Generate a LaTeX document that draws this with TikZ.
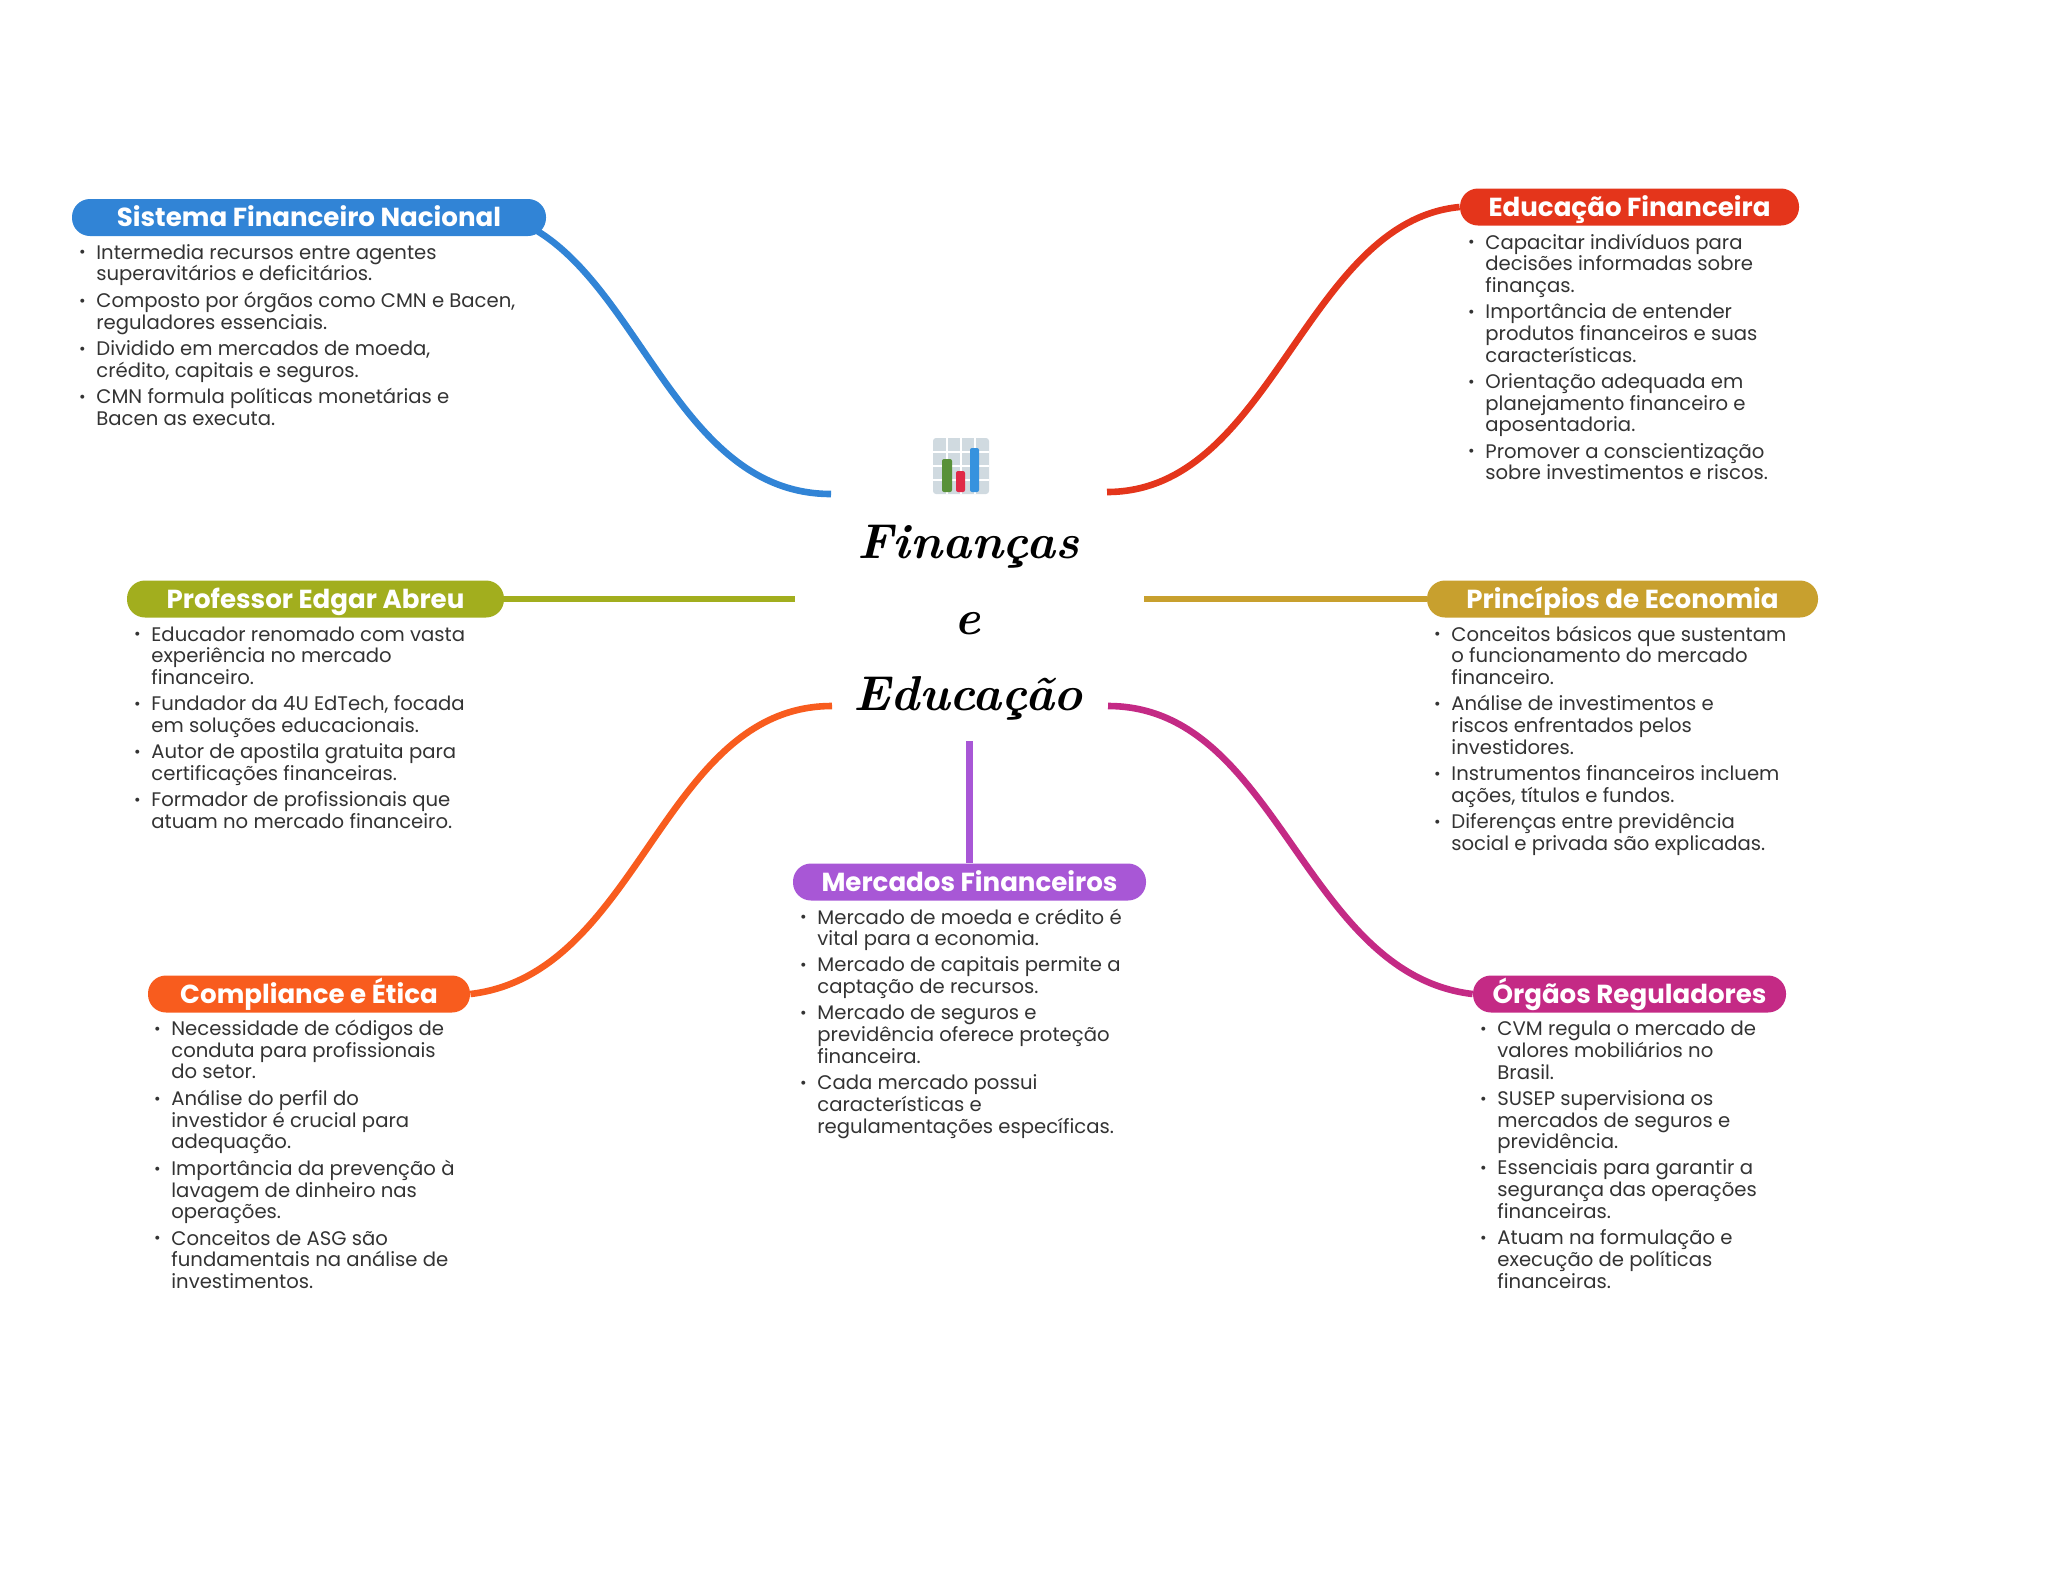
\documentclass[tikz,border=0pt]{standalone}
\usepackage{fontspec}
\newfontfamily\poppins{Poppins}
\usetikzlibrary{positioning}
\definecolor{azul}{HTML}{3184D6}
\definecolor{vermelho}{HTML}{E4351B}
\definecolor{ouro}{HTML}{C8A02E}
\definecolor{oliva}{HTML}{A2AE1E}
\definecolor{laranja}{HTML}{F85C1E}
\definecolor{magenta2}{HTML}{C42A85}
\definecolor{roxo}{HTML}{A857D6}
\definecolor{texto}{HTML}{333333}
\newcommand{\marca}{\makebox[4pt][c]{\raisebox{0.6pt}{\fontsize{8}{8}\selectfont\textbullet}}}
\newcommand{\lista}[1]{\begin{tabular}[t]{@{}p{9pt}@{}l@{}}#1\end{tabular}}
\tikzset{
  topico/.style={rounded corners=9pt, inner sep=0pt, text=white, minimum height=18.5pt,
    text height=11.65pt, text depth=2.35pt, font=\poppins\bfseries\fontsize{13.05}{15}\selectfont},
  notas/.style={anchor=base west, inner sep=0pt, text=texto,
    font=\poppins\fontsize{9.82}{10.83}\selectfont},
  ramo/.style={line width=3.3pt}
}
\begin{document}
\begin{tikzpicture}[x=0.5pt,y=-0.5pt]
        \useasboundingbox (0,0) rectangle (2048,1569);

        % icone central
        \fill[rounded corners=1.5pt, color={rgb,255:red,208;green,218;blue,224}] (933,438) rectangle (989,494);
        \draw[white, line width=0.6pt] (933,452) -- (989,452) (933,466) -- (989,466) (933,480) -- (989,480)
            (947,438) -- (947,494) (961,438) -- (961,494) (975,438) -- (975,494);
        \fill[rounded corners=1pt, color={rgb,255:red,88;green,145;blue,56}] (942,492) rectangle (952,459);
        \fill[rounded corners=1pt, color={rgb,255:red,224;green,42;blue,72}] (956,492) rectangle (965,471);
        \fill[rounded corners=1pt, color={rgb,255:red,54;green,146;blue,222}] (970,492) rectangle (979,448);

        % titulo central
        \node[anchor=base, align=center, font=\bfseries\itshape\fontsize{24.5}{38}\selectfont] (titulo) at (968,710)
            {Finanças\\e\\Educação};

        % pontas livres dos ramos
        \coordinate (pSis) at (831,494);
        \coordinate (pEdu) at (1107,492);
        \coordinate (pPro) at (795,599);
        \coordinate (pPri) at (1144,599);
        \coordinate (pCom) at (832,706);
        \coordinate (pOrg) at (1108,706);
        \coordinate (pMer) at (969.5,741);

        % topicos
        \node[topico, fill=azul, minimum width=237pt] (sis) at (309,217.5) {Sistema Financeiro Nacional};
        \node[topico, fill=vermelho, minimum width=169.5pt] (edu) at (1629.5,207) {Educação Financeira};
        \node[topico, fill=oliva, minimum width=188.5pt] (pro) at (315.5,599) {Professor Edgar Abreu};
        \node[topico, fill=ouro, minimum width=195.5pt] (pri) at (1622.5,599) {Princípios de Economia};
        \node[topico, fill=laranja, minimum width=161pt] (com) at (309,994) {Compliance e Ética};
        \node[topico, fill=magenta2, minimum width=156.5pt] (org) at (1629.5,994) {Órgãos Reguladores};
        \node[topico, fill=roxo, minimum width=176.5pt] (mer) at (969.5,882) {Mercados Financeiros};

        % ramos
        \draw[ramo, azul] (pSis) .. controls +(-148,0) and +(107,65) .. ([shift={(-10,-6)}]sis.south east);
        \draw[ramo, vermelho] (pEdu) .. controls +(165,0) and +(-155,15) .. (edu.west);
        \draw[ramo, oliva] (pPro) -- (pro.east);
        \draw[ramo, ouro] (pPri) -- (pri.west);
        \draw[ramo, laranja] (pCom) .. controls +(-170,0) and +(170,-20) .. (com.east);
        \draw[ramo, magenta2] (pOrg) .. controls +(170,0) and +(-170,-20) .. (org.west);
        \draw[ramo, roxo] (pMer) -- (mer.north);

        % notas
        \node[notas] (nSis) at (78,259) {\lista{
            \marca & Intermedia recursos entre agentes\\
            & superavitários e deficitários.\\[2.33pt]
            \marca & Composto por órgãos como CMN e Bacen,\\
            & reguladores essenciais.\\[2.33pt]
            \marca & Dividido em mercados de moeda,\\
            & crédito, capitais e seguros.\\[2.33pt]
            \marca & CMN formula políticas monetárias e\\
            & Bacen as executa.}};
        \node[notas] (nEdu) at (1467,249) {\lista{
            \marca & Capacitar indivíduos para\\
            & decisões informadas sobre\\
            & finanças.\\[2.33pt]
            \marca & Importância de entender\\
            & produtos financeiros e suas\\
            & características.\\[2.33pt]
            \marca & Orientação adequada em\\
            & planejamento financeiro e\\
            & aposentadoria.\\[2.33pt]
            \marca & Promover a conscientização\\
            & sobre investimentos e riscos.}};
        \node[notas] (nPro) at (133,641) {\lista{
            \marca & Educador renomado com vasta\\
            & experiência no mercado\\
            & financeiro.\\[2.33pt]
            \marca & Fundador da 4U EdTech, focada\\
            & em soluções educacionais.\\[2.33pt]
            \marca & Autor de apostila gratuita para\\
            & certificações financeiras.\\[2.33pt]
            \marca & Formador de profissionais que\\
            & atuam no mercado financeiro.}};
        \node[notas] (nPri) at (1433,641) {\lista{
            \marca & Conceitos básicos que sustentam\\
            & o funcionamento do mercado\\
            & financeiro.\\[2.33pt]
            \marca & Análise de investimentos e\\
            & riscos enfrentados pelos\\
            & investidores.\\[2.33pt]
            \marca & Instrumentos financeiros incluem\\
            & ações, títulos e fundos.\\[2.33pt]
            \marca & Diferenças entre previdência\\
            & social e privada são explicadas.}};
        \node[notas] (nCom) at (153,1035.5) {\lista{
            \marca & Necessidade de códigos de\\
            & conduta para profissionais\\
            & do setor.\\[2.33pt]
            \marca & Análise do perfil do\\
            & investidor é crucial para\\
            & adequação.\\[2.33pt]
            \marca & Importância da prevenção à\\
            & lavagem de dinheiro nas\\
            & operações.\\[2.33pt]
            \marca & Conceitos de ASG são\\
            & fundamentais na análise de\\
            & investimentos.}};
        \node[notas] (nOrg) at (1479,1035.5) {\lista{
            \marca & CVM regula o mercado de\\
            & valores mobiliários no\\
            & Brasil.\\[2.33pt]
            \marca & SUSEP supervisiona os\\
            & mercados de seguros e\\
            & previdência.\\[2.33pt]
            \marca & Essenciais para garantir a\\
            & segurança das operações\\
            & financeiras.\\[2.33pt]
            \marca & Atuam na formulação e\\
            & execução de políticas\\
            & financeiras.}};
        \node[notas] (nMer) at (799,924) {\lista{
            \marca & Mercado de moeda e crédito é\\
            & vital para a economia.\\[2.33pt]
            \marca & Mercado de capitais permite a\\
            & captação de recursos.\\[2.33pt]
            \marca & Mercado de seguros e\\
            & previdência oferece proteção\\
            & financeira.\\[2.33pt]
            \marca & Cada mercado possui\\
            & características e\\
            & regulamentações específicas.}};
\end{tikzpicture}
\end{document}
